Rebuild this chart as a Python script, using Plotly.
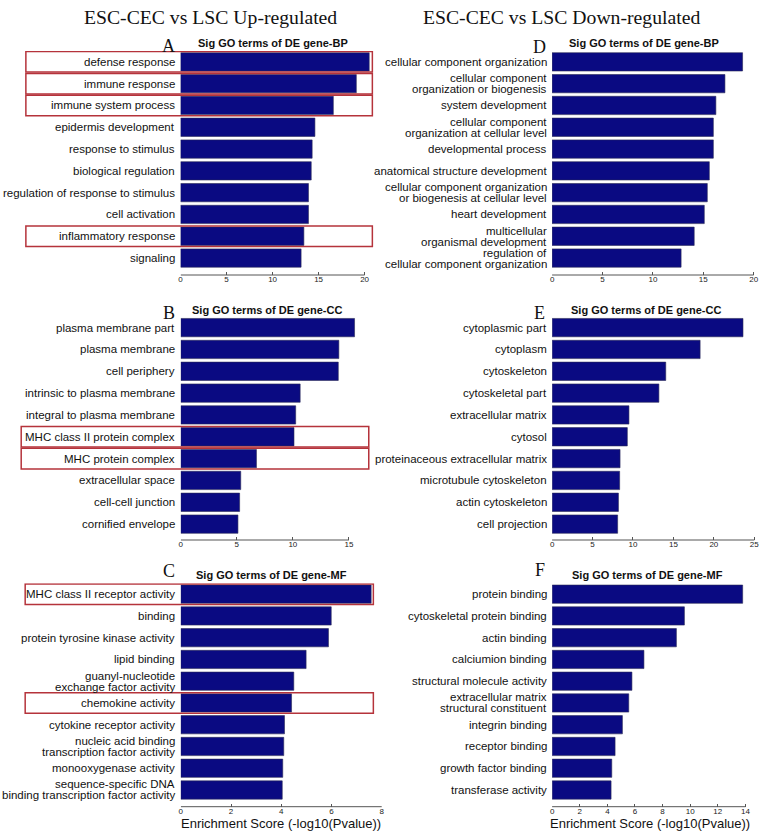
import plotly.graph_objects as go

# ---------------- data ----------------
bp_up_terms = ["defense response", "immune response", "immune system process",
               "epidermis development", "response to stimulus", "biological regulation",
               "regulation of response to stimulus", "cell activation",
               "inflammatory response", "signaling"]
bp_up_scores = [20.5, 19.1, 16.6, 14.6, 14.3, 14.2, 13.9, 13.9, 13.4, 13.1]

bp_down_terms = ["cellular component organization",
                 "cellular component\norganization or biogenesis",
                 "system development",
                 "cellular component\norganization at cellular level",
                 "developmental process",
                 "anatomical structure development",
                 "cellular component organization\nor biogenesis at cellular level",
                 "heart development",
                 "multicellular\norganismal development",
                 "regulation of\ncellular component organization"]
bp_down_scores = [18.9, 17.15, 16.25, 16.0, 16.0, 15.6, 15.4, 15.1, 14.1, 12.8]

cc_up_terms = ["plasma membrane part", "plasma membrane", "cell periphery",
               "intrinsic to plasma membrane", "integral to plasma membrane",
               "MHC class II protein complex", "MHC protein complex",
               "extracellular space", "cell-cell junction", "cornified envelope"]
cc_up_scores = [15.5, 14.1, 14.05, 10.65, 10.25, 10.1, 6.75, 5.35, 5.25, 5.1]

cc_down_terms = ["cytoplasmic part", "cytoplasm", "cytoskeleton", "cytoskeletal part",
                 "extracellular matrix", "cytosol", "proteinaceous extracellular matrix",
                 "microtubule cytoskeleton", "actin cytoskeleton", "cell projection"]
cc_down_scores = [23.6, 18.3, 14.05, 13.2, 9.5, 9.3, 8.4, 8.35, 8.2, 8.1]

mf_up_terms = ["MHC class II receptor activity", "binding",
               "protein tyrosine kinase activity", "lipid binding",
               "guanyl-nucleotide\nexchange factor activity", "chemokine activity",
               "cytokine receptor activity",
               "nucleic acid binding\ntranscription factor activity",
               "monooxygenase activity",
               "sequence-specific DNA\nbinding transcription factor activity"]
mf_up_scores = [7.58, 5.99, 5.88, 4.99, 4.5, 4.41, 4.13, 4.1, 4.06, 4.04]

mf_down_terms = ["protein binding", "cytoskeletal protein binding", "actin binding",
                 "calciumion binding", "structural molecule activity",
                 "extracellular matrix\nstructural constituent", "integrin binding",
                 "receptor binding", "growth factor binding", "transferase activity"]
mf_down_scores = [13.8, 9.58, 9.0, 6.65, 5.78, 5.55, 5.09, 4.56, 4.32, 4.27]

ticks_a = [0, 5, 10, 15, 20]
ticks_d = [0, 5, 10, 15, 20]
ticks_b = [0, 5, 10, 15]
ticks_e = [0, 5, 10, 15, 20, 25]
ticks_c = [0, 2, 4, 6, 8]
ticks_f = [0, 2, 4, 6, 8, 10, 12, 14]

highlight_a = ["defense response", "immune response", "immune system process",
               "inflammatory response"]
highlight_b = ["MHC class II protein complex", "MHC protein complex"]
highlight_c = ["MHC class II receptor activity", "chemokine activity"]

panel_titles = ["Sig GO terms of DE gene-BP", "Sig GO terms of DE gene-BP",
                "Sig GO terms of DE gene-CC", "Sig GO terms of DE gene-CC",
                "Sig GO terms of DE gene-MF", "Sig GO terms of DE gene-MF"]
panel_letters = ["A", "D", "B", "E", "C", "F"]
column_titles = ["ESC-CEC vs LSC Up-regulated", "ESC-CEC vs LSC Down-regulated"]
x_title = "Enrichment Score (-log10(Pvalue))"

# ---------------- layout helpers ----------------
W, H = 767, 836
def fx(p):
    return p / W
def fy(p):
    return 1 - p / H

BAR = "#0a0a82"
RED = "#b5333b"
SANS = "Liberation Sans, Arial, sans-serif"
SERIF = "Liberation Serif, Times New Roman, serif"

panels = [
    dict(terms=bp_up_terms, scores=bp_up_scores, ticks=ticks_a, hl=highlight_a,
         xl=179.5, xr=372, ppu=9.25, yt=50.95, yb=275, c0=61.85, st=21.8,
         box=(24, 372.3), tcx=272, tcy=42.5, lx=167.5, ly=46),
    dict(terms=bp_down_terms, scores=bp_down_scores, ticks=ticks_d, hl=[],
         xl=553, xr=760, ppu=10.13, yt=50.95, yb=275, c0=61.85, st=21.8,
         box=None, tcx=645, tcy=42.5, lx=540.5, ly=47),
    dict(terms=cc_up_terms, scores=cc_up_scores, ticks=ticks_b, hl=highlight_b,
         xl=179.7, xr=362, ppu=11.27, yt=316.7, yb=540, c0=327.65, st=21.83,
         box=(19.3, 368.7), tcx=266.5, tcy=310, lx=167.5, ly=312.5),
    dict(terms=cc_down_terms, scores=cc_down_scores, ticks=ticks_e, hl=[],
         xl=553, xr=760, ppu=8.13, yt=316.7, yb=540, c0=327.65, st=21.83,
         box=None, tcx=647, tcy=310, lx=540.5, ly=312.5),
    dict(terms=mf_up_terms, scores=mf_up_scores, ticks=ticks_c, hl=highlight_c,
         xl=179.7, xr=382, ppu=25.25, yt=583.3, yb=806.7, c0=594.15, st=21.76,
         box=(23.3, 373.3), tcx=270.5, tcy=575, lx=167.5, ly=570.8),
    dict(terms=mf_down_terms, scores=mf_down_scores, ticks=ticks_f, hl=[],
         xl=553, xr=750, ppu=13.88, yt=583.3, yb=806.7, c0=594.15, st=21.76,
         box=None, tcx=649, tcy=575, lx=540.5, ly=570.3),
]

fig = go.Figure()
annotations = []
shapes = []
layout_axes = {}

for i, p in enumerate(panels, start=1):
    xa = "x" if i == 1 else f"x{i}"
    ya = "y" if i == 1 else f"y{i}"
    n = len(p["terms"])
    fig.add_trace(go.Bar(
        x=p["scores"], y=p["terms"], orientation="h",
        xaxis=xa, yaxis=ya,
        marker=dict(color=BAR, line=dict(color="#2a2a55", width=0.6)),
        showlegend=False, hoverinfo="x+y",
    ))
    last_c = p["c0"] + (n - 1) * p["st"]
    y_bottom_idx = (n - 1) + (p["yb"] - last_c) / p["st"]
    xrange = [0, (p["xr"] - p["xl"]) / p["ppu"]]
    xkey = "xaxis" if i == 1 else f"xaxis{i}"
    ykey = "yaxis" if i == 1 else f"yaxis{i}"
    layout_axes[xkey] = dict(
        domain=[fx(p["xl"]), fx(p["xr"])], anchor=ya, range=xrange,
        tickvals=p["ticks"], ticktext=[str(t) for t in p["ticks"]],
        ticks="inside", ticklen=3, tickwidth=1, tickcolor="#555",
        tickfont=dict(family=SANS, size=8, color="#222"),
        showline=False, showgrid=False, zeroline=False, fixedrange=True,
        ticklabelstandoff=-2,
    )
    layout_axes[ykey] = dict(
        domain=[fy(p["yb"]), fy(p["yt"])], anchor=xa, type="category",
        categoryorder="array", categoryarray=p["terms"],
        range=[y_bottom_idx, -0.5],
        showticklabels=False, ticks="", showline=False, showgrid=False,
        zeroline=False, fixedrange=True,
    )
    shapes.append(dict(type="line", xref=xa, yref=f"{ya} domain",
                       x0=p["ticks"][0], x1=p["ticks"][-1], y0=0, y1=0,
                       line=dict(color="#555", width=1)))
    for t in p["terms"]:
        lines = t.split("\n")
        k = len(lines)
        for j, ln in enumerate(lines):
            shift = ((k - 1) / 2 - j) * 11
            annotations.append(dict(
                x=0, y=t, xref=xa, yref=ya, text=ln, showarrow=False,
                xanchor="right", yanchor="middle", xshift=-3.5, yshift=shift,
                font=dict(family=SANS, size=11.5, color="#111"),
            ))
    if p["box"]:
        for t in p["hl"]:
            idx = p["terms"].index(t)
            shapes.append(dict(type="rect", xref="paper", yref=ya,
                               x0=fx(p["box"][0]), x1=fx(p["box"][1]),
                               y0=idx - 0.47, y1=idx + 0.47,
                               line=dict(color=RED, width=1.5),
                               fillcolor="rgba(0,0,0,0)", layer="above"))
    annotations.append(dict(x=fx(p["tcx"]), y=fy(p["tcy"]), xref="paper", yref="paper",
                            text=f"<b>{panel_titles[i-1]}</b>", showarrow=False,
                            xanchor="center", yanchor="middle",
                            font=dict(family=SANS, size=11, color="#111")))
    annotations.append(dict(x=fx(p["lx"]), y=fy(p["ly"]), xref="paper", yref="paper",
                            text=panel_letters[i-1], showarrow=False,
                            xanchor="center", yanchor="middle",
                            font=dict(family=SERIF, size=18, color="#111")))

for xa_dom in ("x5 domain", "x6 domain"):
    annotations.append(dict(x=0.5, y=fy(823), xref=xa_dom, yref="paper",
                            text=x_title, showarrow=False,
                            xanchor="center", yanchor="middle",
                            font=dict(family=SANS, size=13, color="#111")))

for txt, cx in zip(column_titles, (209.7, 562.5)):
    annotations.append(dict(x=fx(cx), y=fy(16.5), xref="paper", yref="paper",
                            text=txt, showarrow=False, xanchor="center", yanchor="middle",
                            font=dict(family=SERIF, size=19.7, color="#111")))

fig.update_layout(
    width=W, height=H, margin=dict(l=0, r=0, t=0, b=0),
    paper_bgcolor="white", plot_bgcolor="white",
    bargap=0.16, annotations=annotations, shapes=shapes,
    **layout_axes,
)

fig.write_html("out.html",
               config={"displayModeBar": False},
               post_script="document.body.style.margin='0';document.body.style.padding='0';"
                           "document.body.style.overflow='hidden';")
